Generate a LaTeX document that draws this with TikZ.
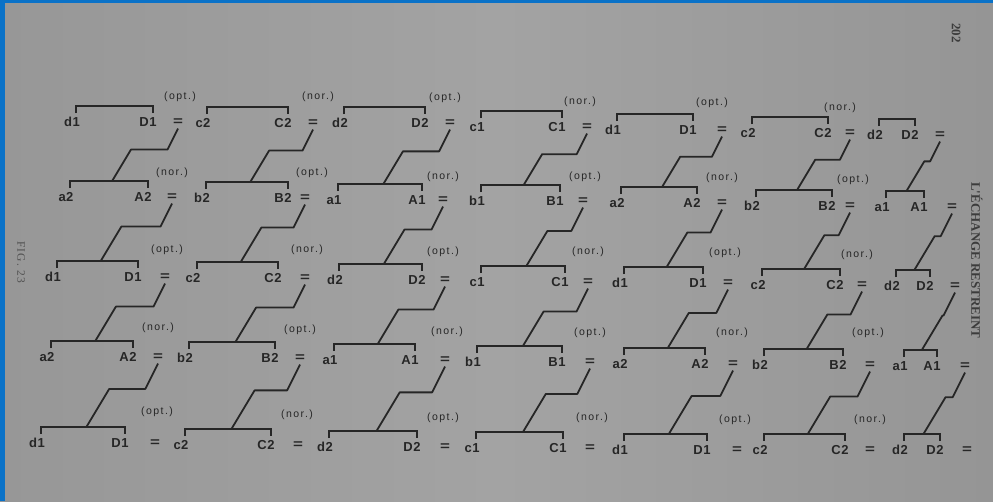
\documentclass[tikz,border=0pt]{standalone}
\usepackage{graphicx}
\usepackage{fontspec}
\setmainfont{Liberation Sans}
\newfontfamily\labfont[LetterSpace=4]{Liberation Sans}
\newfontfamily\notefont[LetterSpace=14]{Liberation Sans}
\newfontfamily\bookfont{Liberation Serif}
\newfontfamily\capfont[LetterSpace=10]{Liberation Serif}
\usetikzlibrary{calc}
\definecolor{pagel}{HTML}{979797}
\definecolor{pagem}{HTML}{A3A3A3}
\definecolor{pager}{HTML}{959595}
\definecolor{ink}{HTML}{262626}
\definecolor{frameblue}{HTML}{0A72C8}
\tikzset{
  lbl/.style={font=\labfont\bfseries\fontsize{13}{13}\selectfont, text=ink, inner sep=0pt, anchor=center},
  eqs/.style={lbl},
  note/.style={font=\notefont\fontsize{10.5}{11}\selectfont, text=ink, inner sep=0pt, anchor=center},
  brk/.style={draw=ink, line width=1.9pt, line join=miter},
  link/.style={draw=ink, line width=1.8pt, line join=round},
  runhead/.style={font=\bookfont\bfseries\fontsize{13}{13}\selectfont, text=ink!90, inner sep=0pt, rotate=-90},
}
% #1 row, #2 index, #3 Lx, #4 Rx, #5 Ex, #6 ty, #7 left text, #8 right text
\newcommand{\mkunit}[8]{%
  \node[lbl] (r#1L#2) at (#3,#6) {#7};
  \node[lbl] (r#1R#2) at (#4,#6) {#8};
  \node[eqs] (r#1E#2) at (#5,#6) {\scalebox{1.3}[1]{=}};
  \coordinate (r#1BL#2) at (#3+4,#6-16);
  \coordinate (r#1BR#2) at (#4+5,#6-16);
  \coordinate (r#1T#2) at ($(r#1BL#2)!0.54!(r#1BR#2)$);
  \draw[brk] (r#1BL#2) ++(0,7) -- (r#1BL#2) -- (r#1BR#2) -- ++(0,7);
}
% #1 row, #2 index, #3 x, #4 y, #5 text
\newcommand{\mklab}[5]{\node[note] (r#1P#2) at (#3,#4) {#5};}
% #1 row, #2 index, #3 next row
\newcommand{\mklink}[3]{%
  \draw[link] let \p1=([yshift=-3pt]r#1E#2.south), \p2=(r#3T#2),
    \n1={\y1+0.4*(\y2-\y1)} in
    (\p1) -- (\x1-0.5*\y1+0.5*\n1,\n1) -- (\x2+0.6*\n1-0.6*\y2,\n1) -- (\p2);
}
\begin{document}
\begin{tikzpicture}[x=1pt,y=-1pt]
\useasboundingbox (0,0) rectangle (993,501);
\shade[left color=pagel, right color=pager, middle color=pagem] (0,0) rectangle (993,501);
\fill[frameblue] (0,0) rectangle (5,501);
\fill[frameblue] (0,0) rectangle (993,3);

% running head, page number, caption
\node[runhead, anchor=center] (pagenum) at (956,33) {202};
\node[runhead, anchor=west] (head) at (977,182) {L'ÉCHANGE RESTREINT};
\node[anchor=center, inner sep=0pt, rotate=-90, font=\capfont\fontsize{11.5}{12}\selectfont, text=ink!80] (fig) at (21,262) {FIG. 23};

% Row 1
\mkunit{1}{0}{72}{148}{178}{122}{d1}{D1}
\mkunit{1}{1}{203}{283}{313}{123}{c2}{C2}
\mkunit{1}{2}{340}{420}{450}{123}{d2}{D2}
\mkunit{1}{3}{477}{557}{587}{127}{c1}{C1}
\mkunit{1}{4}{613}{688}{722}{130}{d1}{D1}
\mkunit{1}{5}{748}{823}{850}{133}{c2}{C2}
\mkunit{1}{6}{875}{910}{940}{135}{d2}{D2}
\mklab{1}{0}{180}{97}{(opt.)}
\mklab{1}{1}{318}{97}{(nor.)}
\mklab{1}{2}{445}{98}{(opt.)}
\mklab{1}{3}{580}{102}{(nor.)}
\mklab{1}{4}{712}{103}{(opt.)}
\mklab{1}{5}{840}{108}{(nor.)}

% Row 2
\mkunit{2}{0}{66}{143}{172}{197}{a2}{A2}
\mkunit{2}{1}{202}{283}{305}{198}{b2}{B2}
\mkunit{2}{2}{334}{417}{443}{200}{a1}{A1}
\mkunit{2}{3}{477}{555}{583}{201}{b1}{B1}
\mkunit{2}{4}{617}{692}{722}{203}{a2}{A2}
\mkunit{2}{5}{752}{827}{850}{206}{b2}{B2}
\mkunit{2}{6}{882}{919}{952}{207}{a1}{A1}
\mklab{2}{0}{172}{173}{(nor.)}
\mklab{2}{1}{312}{173}{(opt.)}
\mklab{2}{2}{443}{177}{(nor.)}
\mklab{2}{3}{585}{177}{(opt.)}
\mklab{2}{4}{722}{178}{(nor.)}
\mklab{2}{5}{853}{180}{(opt.)}

% Row 3
\mkunit{3}{0}{53}{133}{165}{277}{d1}{D1}
\mkunit{3}{1}{193}{273}{305}{278}{c2}{C2}
\mkunit{3}{2}{335}{417}{445}{280}{d2}{D2}
\mkunit{3}{3}{477}{560}{588}{282}{c1}{C1}
\mkunit{3}{4}{620}{698}{728}{283}{d1}{D1}
\mkunit{3}{5}{758}{835}{862}{285}{c2}{C2}
\mkunit{3}{6}{892}{925}{955}{286}{d2}{D2}
\mklab{3}{0}{167}{250}{(opt.)}
\mklab{3}{1}{307}{250}{(nor.)}
\mklab{3}{2}{443}{252}{(opt.)}
\mklab{3}{3}{588}{252}{(nor.)}
\mklab{3}{4}{725}{253}{(opt.)}
\mklab{3}{5}{857}{255}{(nor.)}

% Row 4
\mkunit{4}{0}{47}{128}{158}{357}{a2}{A2}
\mkunit{4}{1}{185}{270}{300}{358}{b2}{B2}
\mkunit{4}{2}{330}{410}{445}{360}{a1}{A1}
\mkunit{4}{3}{473}{557}{590}{362}{b1}{B1}
\mkunit{4}{4}{620}{700}{733}{364}{a2}{A2}
\mkunit{4}{5}{760}{838}{870}{365}{b2}{B2}
\mkunit{4}{6}{900}{932}{965}{366}{a1}{A1}
\mklab{4}{0}{158}{328}{(nor.)}
\mklab{4}{1}{300}{330}{(opt.)}
\mklab{4}{2}{447}{332}{(nor.)}
\mklab{4}{3}{590}{333}{(opt.)}
\mklab{4}{4}{732}{333}{(nor.)}
\mklab{4}{5}{868}{333}{(opt.)}

% Row 5
\mkunit{5}{0}{37}{120}{155}{443}{d1}{D1}
\mkunit{5}{1}{181}{266}{298}{445}{c2}{C2}
\mkunit{5}{2}{325}{412}{445}{447}{d2}{D2}
\mkunit{5}{3}{472}{558}{590}{448}{c1}{C1}
\mkunit{5}{4}{620}{702}{737}{450}{d1}{D1}
\mkunit{5}{5}{760}{840}{870}{450}{c2}{C2}
\mkunit{5}{6}{900}{935}{967}{450}{d2}{D2}
\mklab{5}{0}{157}{412}{(opt.)}
\mklab{5}{1}{297}{415}{(nor.)}
\mklab{5}{2}{443}{418}{(opt.)}
\mklab{5}{3}{592}{418}{(nor.)}
\mklab{5}{4}{735}{420}{(opt.)}
\mklab{5}{5}{870}{420}{(nor.)}

% Connectors
\foreach \rr/\nx in {1/2,2/3,3/4,4/5}{
  \foreach \ii in {0,...,6}{
    \mklink{\rr}{\ii}{\nx}
  }
}
\end{tikzpicture}
\end{document}
